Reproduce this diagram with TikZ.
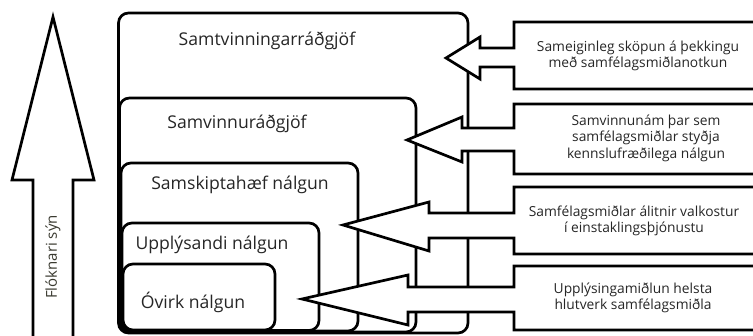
\documentclass[tikz,border=0pt]{standalone}
\usepackage{fontspec}
\setmainfont{Open Sans}
\definecolor{txt}{HTML}{262626}
\definecolor{sidetxt}{HTML}{3A3A30}
\begin{document}
\begin{tikzpicture}[x=1pt,y=-1pt,
  shape line/.style={draw=black,line width=2.7pt,fill=white,line join=miter},
  nest/.style={shape line,rounded corners=10pt},
  boxlabel/.style={text=txt,font=\fontsize{17.6}{20}\selectfont,inner sep=0pt},
  calltext/.style={text=txt,font=\fontsize{13.8}{16.5}\selectfont,align=center,inner sep=0pt},
]
\useasboundingbox (0,0) rectangle (753,336);
\clip (0,0) rectangle (753,336);
\fill[white] (0,0) rectangle (753,336);

% big upward arrow
\draw[shape line] (33,345) -- (33,180) -- (12,180) -- (53,17) -- (94,180) -- (73,180) -- (73,345);
\node[text=sidetxt,rotate=90,font=\fontsize{15}{17}\selectfont,inner sep=0pt] (side) at (53,257) {Flóknari sýn};

% nested rounded boxes
\draw[nest] (118.5,13) rectangle (468,333);
\draw[nest] (119.5,98) rectangle (416,332);
\draw[nest] (121,163) rectangle (358,331);
\draw[nest] (122,223) rectangle (319,330.5);
\draw[nest] (123,264) rectangle (275,330);

\node[boxlabel] (l1) at (267,41) {Samtvinningarráðgjöf};
\node[boxlabel] (l2) at (237,124) {Samvinnuráðgjöf};
\node[boxlabel] (l3) at (240,185) {Samskiptahæf nálgun};
\node[boxlabel] (l4) at (212,245) {Upplýsandi nálgun};
\node[boxlabel] (l5) at (193,302) {Óvirk nálgun};

% left-arrow callouts
% args: T,B,shaft top,shaft bottom,head x,head top,head bottom,tip x,tip y
\newcommand\mycallout[9]{%
  \draw[shape line] (790,#1) -- (514,#1) -- (514,#3) -- (#5,#3) -- (#5,#6) -- (#8,#9)
     -- (#5,#7) -- (#5,#4) -- (514,#4) -- (514,#2) -- (790,#2);}
\mycallout{22}{89}{48}{67}{480}{37}{79}{446}{58}
\mycallout{104}{174}{128}{151}{462}{117}{162}{407}{140}
\mycallout{187}{254}{213}{238}{429}{202}{251}{343}{225}
\mycallout{266}{330}{287}{312}{408}{275}{325}{302}{299}

\node[calltext] (c1) at (638,56) {Sameiginleg sköpun á þekkingu\\með samfélagsmiðlanotkun};
\node[calltext] (c2) at (646,138) {Samvinnunám þar sem\\samfélagsmiðlar styðja\\kennslufræðilega nálgun};
\node[calltext] (c3) at (634,221) {Samfélagsmiðlar álitnir valkostur\\í einstaklingsþjónustu};
\node[calltext] (c4) at (633,298) {Upplýsingamiðlun helsta\\hlutverk samfélagsmiðla};
\end{tikzpicture}
\end{document}
